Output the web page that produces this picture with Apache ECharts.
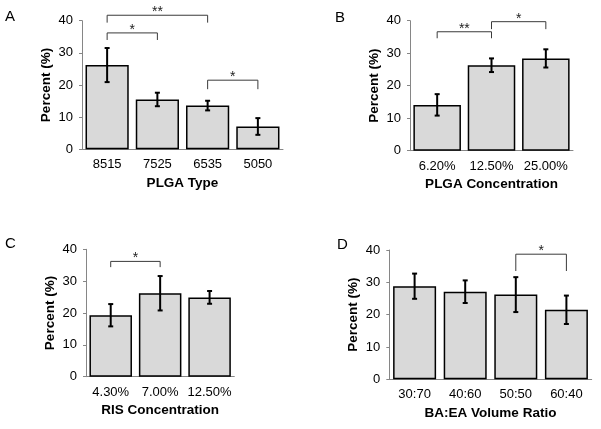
<!DOCTYPE html>
<html>
<head>
<meta charset="utf-8">
<script src="https://cdn.jsdelivr.net/npm/echarts@6/dist/echarts.min.js"></script>
<style>
html, body { margin: 0; padding: 0; background: #fff; }
#main { width: 601px; height: 429px; }
</style>
</head>
<body>
<div id="main"></div>
<script>
// 面板数据（均值 / 误差）
var catsA = ['8515', '7525', '6535', '5050'];
var valsA = [26.2, 15.5, 13.6, 7.1];
var errA = [5.3, 2.1, 1.5, 2.6];
var bracketsA = [[0, 0.95, 36.2, 34.0, '*'], [0, 2.05, 41.7, 39.4, '**'], [2, 2.95, 21.5, 18.7, '*']];

var catsB = ['6.20%', '12.50%', '25.00%'];
var valsB = [14.1, 26.3, 28.4];
var errB = [3.3, 2.1, 2.8];
var bracketsB = [[-0.07, 0.8, 36.6, 34.6, '**'], [1.02, 1.89, 39.7, 37.4, '*']];

var catsC = ['4.30%', '7.00%', '12.50%'];
var valsC = [19.3, 26.2, 24.9];
var errC = [3.5, 5.4, 2.0];
var bracketsC = [[-0.04, 0.92, 36.2, 34.4, '*']];

var catsD = ['30:70', '40:60', '50:50', '60:40'];
var valsD = [28.8, 27.1, 26.2, 21.5];
var errD = [3.9, 3.5, 5.4, 4.4];
var bracketsD = [[2.0, 2.95, 38.7, 33.5, '*']];

var yTicks = [0, 10, 20, 30, 40];

var FONT = '"Liberation Sans", Arial, sans-serif';
var myChart = echarts.init(document.getElementById('main'));

var panels = [
    {cats: catsA, vals: valsA, err: errA, br: bracketsA, name: 'PLGA Type', letter: 'A',
     grid: {left: 82, top: 20.7, right: 318, bottom: 279.7}, gap: '14%', lx: 5, ly: 9},
    {cats: catsB, vals: valsB, err: errB, br: bracketsB, name: 'PLGA Concentration', letter: 'B',
     grid: {left: 410, top: 20.7, right: 28, bottom: 278.3}, gap: '12.5%', lx: 335, ly: 10},
    {cats: catsC, vals: valsC, err: errC, br: bracketsC, name: 'RIS Concentration', letter: 'C',
     grid: {left: 86, top: 249.3, right: 366.7, bottom: 52.3}, gap: '14%', lx: 5, ly: 236},
    {cats: catsD, vals: valsD, err: errD, br: bracketsD, name: 'BA:EA Volume Ratio', letter: 'D',
     grid: {left: 389.3, top: 250, right: 9.3, bottom: 49.7}, gap: '15%', lx: 337, ly: 237}
];

var grids = [], xAxes = [], yAxes = [], series = [], titles = [];

panels.forEach(function (p, i) {
    grids.push(p.grid);
    titles.push({
        text: p.letter, left: p.lx, top: p.ly, padding: 0,
        textStyle: {fontFamily: FONT, fontSize: 15, fontWeight: 'normal', color: '#000'}
    });
    xAxes.push({
        type: 'category', gridIndex: i, data: p.cats,
        name: p.name, nameLocation: 'middle', nameGap: 27,
        nameTextStyle: {fontFamily: FONT, fontSize: 13.5, fontWeight: 'bold', color: '#000'},
        axisLine: {lineStyle: {color: '#868686', width: 1}},
        axisTick: {show: false},
        axisLabel: {fontFamily: FONT, fontSize: 13, color: '#000', margin: 9, interval: 0}
    });
    yAxes.push({
        type: 'value', gridIndex: i, min: 0, max: 40, interval: 10,
        name: 'Percent (%)', nameLocation: 'middle', nameGap: 29,
        nameTextStyle: {fontFamily: FONT, fontSize: 13.5, fontWeight: 'bold', color: '#000'},
        axisLine: {show: true, lineStyle: {color: '#868686', width: 1}},
        axisTick: {show: true, length: 3, lineStyle: {color: '#868686'}},
        axisLabel: {fontFamily: FONT, fontSize: 13, color: '#000', margin: 9,
            formatter: function (v) { return yTicks.indexOf(v) >= 0 ? String(v) : ''; }},
        splitLine: {show: false}
    });
    // 柱状图
    series.push({
        type: 'bar', xAxisIndex: i, yAxisIndex: i, data: p.vals,
        barCategoryGap: p.gap,
        itemStyle: {color: '#d9d9d9', borderColor: '#000', borderWidth: 1.5},
        silent: true
    });
    // 误差线
    series.push({
        type: 'custom', xAxisIndex: i, yAxisIndex: i, z: 5,
        data: p.vals.map(function (v, k) { return [k, v - p.err[k], v + p.err[k]]; }),
        renderItem: function (params, api) {
            var lo = api.coord([api.value(0), api.value(1)]);
            var hi = api.coord([api.value(0), api.value(2)]);
            var c = 2.5;
            var st = {stroke: '#000', lineWidth: 2};
            return {type: 'group', children: [
                {type: 'line', shape: {x1: lo[0], y1: lo[1], x2: hi[0], y2: hi[1]}, style: st},
                {type: 'line', shape: {x1: lo[0] - c, y1: lo[1], x2: lo[0] + c, y2: lo[1]}, style: st},
                {type: 'line', shape: {x1: hi[0] - c, y1: hi[1], x2: hi[0] + c, y2: hi[1]}, style: st}
            ]};
        }
    });
    // 显著性标记
    var br = p.br;
    series.push({
        type: 'custom', xAxisIndex: i, yAxisIndex: i, z: 6,
        data: br.map(function (b) { return [b[0], b[1], b[2], b[3]]; }),
        renderItem: function (params, api) {
            var a = api.coord([api.value(0), api.value(2)]);
            var b = api.coord([api.value(1), api.value(2)]);
            var d = api.coord([api.value(0), api.value(3)]);
            return {type: 'group', children: [
                {type: 'polyline', shape: {points: [[a[0], d[1]], [a[0], a[1]], [b[0], b[1]], [b[0], d[1]]]}, style: {stroke: '#3a3a3a', lineWidth: 1, fill: null}},
                {type: 'text', x: (a[0] + b[0]) / 2, y: a[1] + 4, style: {
                    text: br[params.dataIndex][4], align: 'center', verticalAlign: 'bottom',
                    fontFamily: FONT, fontSize: 14, fill: '#222'}}
            ]};
        }
    });
});

myChart.setOption({
    backgroundColor: '#fff',
    animation: false,
    title: titles,
    grid: grids,
    xAxis: xAxes,
    yAxis: yAxes,
    series: series
});
</script>
</body>
</html>
